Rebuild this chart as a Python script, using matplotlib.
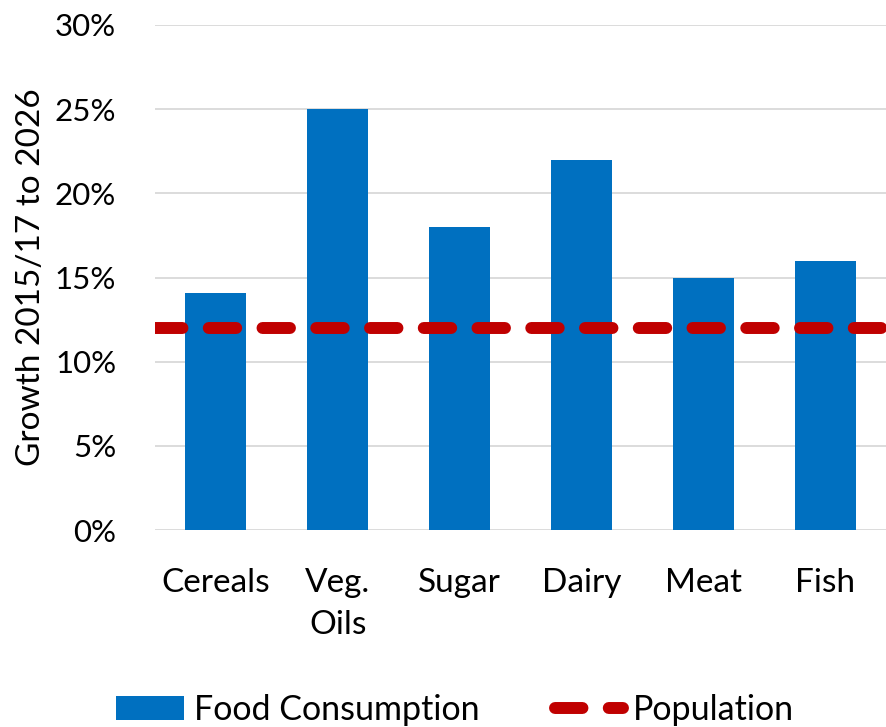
import numpy as np
import matplotlib.pyplot as plt
from matplotlib.ticker import PercentFormatter

## data
categories = ["Cereals", "Veg.\nOils", "Sugar", "Dairy", "Meat", "Fish"]
food_growth = [14.1, 25.0, 18.0, 22.0, 15.0, 16.0]
population_growth = 12.0

## style
plt.rcParams['font.family'] = ['Lato', 'DejaVu Sans']
blue = '#0070C0'
red = '#C00000'

fig = plt.figure(figsize=(8.86, 7.27), dpi=100)
ax = fig.add_axes([155/886, 1 - 530/727, 731/886, 505/727])

x = np.arange(len(categories))
bars = ax.bar(x, food_growth, width=0.5, color=blue, label="Food Consumption", zorder=2)
line, = ax.plot([-0.5, len(categories) - 0.5], [population_growth] * 2, color=red, lw=8.6,
                dashes=(2.3, 2.2), dash_capstyle='round', label="Population", zorder=3)

ax.set_xlim(-0.5, len(categories) - 0.5)
ax.set_ylim(0, 30)
ax.set_yticks(np.arange(0, 31, 5))
ax.yaxis.set_major_formatter(PercentFormatter(decimals=0))
ax.set_xticks(x)
ax.set_xticklabels(categories, fontsize=24, linespacing=1.5, va='top')
ax.tick_params(axis='y', labelsize=22.5, length=0, pad=28)
ax.tick_params(axis='x', length=0, pad=27)
ax.grid(axis='y', color='#D9D9D9', lw=1.3, zorder=0)
for s in ax.spines.values():
    s.set_visible(False)
ax.set_ylabel("Growth 2015/17 to 2026", fontsize=24, labelpad=6)

ax.legend([bars, line], ["Food Consumption", "Population"], loc='center',
          bbox_to_anchor=(455/886, 1 - 710/727), bbox_transform=fig.transFigure,
          ncol=2, frameon=False, fontsize=24.5, handlelength=2.0, handletextpad=0.3,
          columnspacing=2.2)

fig.savefig("out.png", dpi=100)
